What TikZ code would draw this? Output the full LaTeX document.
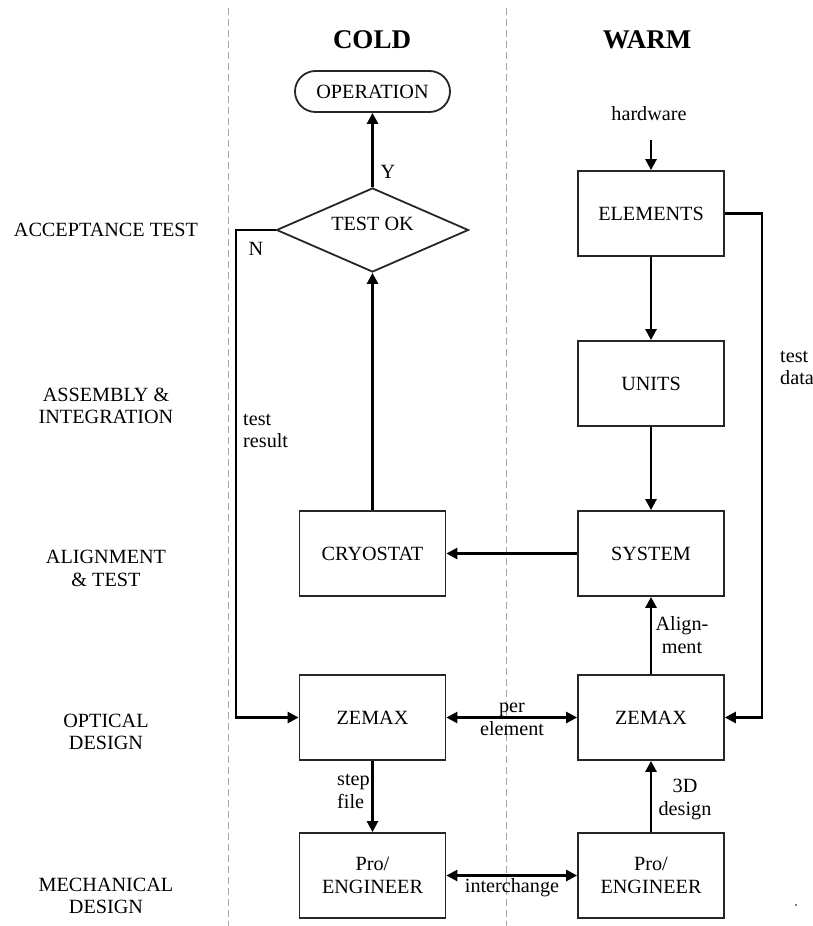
\documentclass[tikz,border=0pt]{standalone}
\usepackage{fontspec}
\setmainfont{Liberation Serif}
\usetikzlibrary{arrows.meta,shapes.geometric,shapes.misc}
\begin{document}
\begin{tikzpicture}[x=1pt,y=-1pt,
  every node/.style={font=\fontsize{20.2}{22.5}\selectfont, align=center, inner sep=0pt},
  box/.style={draw=black!85, line width=1.8pt, minimum width=146pt, minimum height=85pt},
  conn/.style={line width=2.6pt, -{Triangle[length=11pt,width=11pt]}},
  biconn/.style={line width=2.6pt, {Triangle[length=11pt,width=11pt]}-{Triangle[length=11pt,width=11pt]}},
  sep/.style={draw=gray!70, line width=1pt, dash pattern=on 7pt off 4pt},
  title/.style={font=\fontsize{27}{30}\selectfont\bfseries},
  leftlbl/.style={anchor=west, align=left}
]
\useasboundingbox (0,0) rectangle (813,926);

% separators
\coordinate (s1t) at (228,8); \coordinate (s1b) at (228,926);
\coordinate (s2t) at (506,8); \coordinate (s2b) at (506,926);
\draw[sep] (s1t) -- (s1b);
\draw[sep] (s2t) -- (s2b);

% titles
\node[title] (cold) at (372,40) {COLD};
\node[title] (warm) at (647,40) {WARM};

% row labels
\node (r1) at (106,230) {ACCEPTANCE TEST};
\node (r2) at (106,406) {ASSEMBLY \&\\INTEGRATION};
\node (r3) at (106,568.5) {ALIGNMENT\\\& TEST};
\node (r4) at (106,732) {OPTICAL\\DESIGN};
\node (r5) at (106,896) {MECHANICAL\\DESIGN};

% cold column
\node[draw=black!85, line width=1.8pt, rounded rectangle, minimum width=155pt, minimum height=41pt] (op) at (372.5,91.5) {OPERATION};
\node[diamond, draw=black!85, line width=1.8pt, aspect=2.2857, minimum width=192pt, minimum height=84pt, text depth=12pt] (test) at (372.5,230) {TEST OK};
\node[box] (cryo) at (372.5,553.5) {CRYOSTAT};
\node[box] (czem) at (372.5,717.5) {ZEMAX};
\node[box] (cpro) at (372.5,875.5) {Pro/\\ENGINEER};

% warm column
\node (hw) at (649,114) {hardware};
\coordinate (hwend) at (651,140);
\node[box] (elem) at (651,213.5) {ELEMENTS};
\node[box] (units) at (651,383.5) {UNITS};
\node[box] (sys) at (651,553.5) {SYSTEM};
\node[box] (wzem) at (651,717.5) {ZEMAX};
\node[box] (wpro) at (651,875.5) {Pro/\\ENGINEER};

% connectors
\draw[conn] (hwend) -- (elem);
\draw[conn] (elem) -- (units);
\draw[conn] (units) -- (sys);
\coordinate (td1) at (762,213.5);
\coordinate (td2) at (762,717.5);
\draw[conn] (elem.east) -- (td1) -- (td2) -- (wzem.east);
\node[leftlbl] (tdl) at (780,368) {test\\data};

\draw[conn] (sys) -- (cryo);
\draw[conn] (cryo) -- (test);
\draw[conn] (test) -- (op);
\node (Y) at (388,172) {Y};

\coordinate (n1) at (236,230);
\coordinate (n2) at (236,717.5);
\draw[conn] (test.west) -- (n1) -- (n2) -- (czem.west);
\node (N) at (256,249) {N};
\node[leftlbl] (tr) at (243,431) {test\\result};

\draw[biconn] (czem) -- (wzem);
\node (pe) at (512,719.5) {per\\element};

\draw[conn] (wzem) -- (sys);
\node (al) at (682,635) {Align-\\ment};

\draw[conn] (czem) -- (cpro);
\node[leftlbl] (sf) at (337,791.5) {step\\file};

\draw[conn] (wpro) -- (wzem);
\node (d3) at (685,799.5) {3D\\design};

\draw[biconn] (cpro) -- (wpro);
\node (ic) at (512,888) {interchange};

\node[circle, fill, inner sep=0pt, minimum size=1.6pt] (dot) at (796,905) {};
\end{tikzpicture}
\end{document}
